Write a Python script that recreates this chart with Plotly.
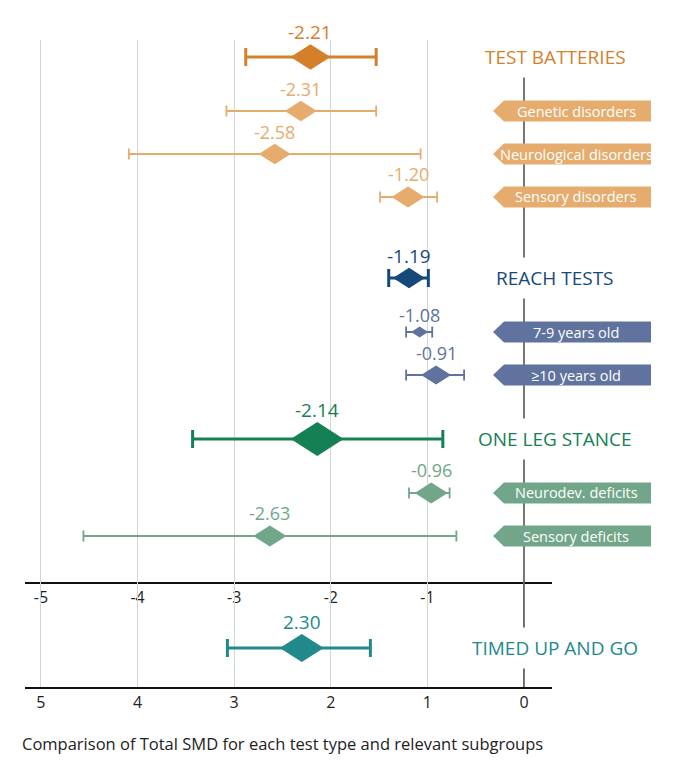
import plotly.graph_objects as go

# Datos: SMD total por tipo de prueba
grupos = ['TEST BATTERIES', 'REACH TESTS', 'ONE LEG STANCE', 'TIMED UP AND GO']
grupo_smd = [-2.21, -1.19, -2.14, 2.30]
grupo_lo = [-2.88, -1.40, -3.43, 1.59]
grupo_hi = [-1.53, -0.99, -0.84, 3.07]

# Subgrupos
sub_nombres = ['Genetic disorders', 'Neurological disorders', 'Sensory disorders',
               '7-9 years old', '≥10 years old', 'Neurodev. deficits', 'Sensory deficits']
sub_grupo = [0, 0, 0, 1, 1, 2, 2]
sub_smd = [-2.31, -2.58, -1.20, -1.08, -0.91, -0.96, -2.63]
sub_lo = [-3.08, -4.09, -1.49, -1.22, -1.22, -1.19, -4.56]
sub_hi = [-1.53, -1.07, -0.90, -0.95, -0.62, -0.77, -0.70]

ticks_top = [-5, -4, -3, -2, -1]
ticks_top_txt = ['-5', '-4', '-3', '-2', '-1']
ticks_bottom = [5, 4, 3, 2, 1, 0]
caption = 'Comparison of Total SMD for each test type and relevant subgroups'

# Estilos
col_grupo = ['#D4802B', '#16497A', '#168055', '#22898B']
col_sub = ['#E5AC6E', '#60739E', '#72A68A']
ancho_grupo = [20, 16, 26.5, 22]          # medio ancho del rombo (px)
ancho_sub = [16, 16, 16.5, 8.5, 15, 16.5, 16.5]
FONT = 'Open Sans'

W, H = 677, 771
L, R, T, B = 25, 125, 40, 84
PW, PH = W - L - R, H - T - B
Y_AXIS1, Y_AXIS2 = 582, 687     # lineas de eje (px desde arriba)
XMIN, XMAX = -5.165, 0.29
px_unit = PW / (XMAX - XMIN)
split = (Y_AXIS2 - Y_AXIS1) / PH

# Posiciones de filas (en px, eje y invertido)
salto_grupo = [0, 81, 64]
fila_grupo, fila_sub = [], [None] * len(sub_nombres)
y = 57
for g in range(3):
    y += salto_grupo[g]
    fila_grupo.append(y)
    y += 54
    subs = [i for i, sg in enumerate(sub_grupo) if sg == g]
    for k, i in enumerate(subs):
        if k > 0:
            y += 43
        fila_sub[i] = y
fila_grupo.append(648)


def px_x(px):
    return (px - L) / PW


def px_y(py):
    return (T + PH - py) / PH


fig = go.Figure()
annotations = []
shapes = []


def forest_row(m, lo, hi, row, color, hw_px, header, axis):
    xa, ya = ('x', 'y') if axis == 1 else ('x2', 'y2')
    fig.add_trace(go.Scatter(
        x=[m], y=[row], mode='markers', xaxis=xa, yaxis=ya,
        marker=dict(size=1, color=color),
        error_x=dict(type='data', symmetric=False,
                     array=[abs(hi - m)], arrayminus=[abs(m - lo)],
                     color=color, thickness=3 if header else 1.8,
                     width=9 if header else 5.5),
        showlegend=False, hoverinfo='skip'))
    hw = hw_px / px_unit
    if axis == 2:
        hw = -hw
    hh = hw_px * 0.64
    fig.add_trace(go.Scatter(
        x=[m - hw, m, m + hw, m, m - hw], y=[row, row - hh, row, row + hh, row],
        mode='lines', fill='toself', fillcolor=color, line=dict(width=0, color=color),
        xaxis=xa, yaxis=ya, showlegend=False, hoverinfo='skip'))
    annotations.append(dict(
        x=m, y=px_y(row - hh - 12), xref=xa, yref='paper', text=f'{m:.2f}',
        showarrow=False, xanchor='center', yanchor='middle',
        font=dict(family=FONT, size=19 if header else 18, color=color)))


for g in range(4):
    forest_row(grupo_smd[g], grupo_lo[g], grupo_hi[g], fila_grupo[g], col_grupo[g],
               ancho_grupo[g], True, 1 if g < 3 else 2)
    annotations.append(dict(
        x=px_x(555), y=px_y(fila_grupo[g]), xref='paper', yref='paper',
        text=grupos[g], showarrow=False, bgcolor='white', borderpad=7,
        xanchor='center', yanchor='middle',
        font=dict(family=FONT, size=19, color=col_grupo[g])))

for i, nombre in enumerate(sub_nombres):
    c = col_sub[sub_grupo[i]]
    row = fila_sub[i]
    forest_row(sub_smd[i], sub_lo[i], sub_hi[i], row, c, ancho_sub[i], False, 1)
    x0, x1, x2 = px_x(493), px_x(504), px_x(651)
    shapes.append(dict(
        type='path', xref='paper', yref='y', fillcolor=c, line=dict(width=0),
        path=f'M{x1},{row - 10.5} L{x2},{row - 10.5} L{x2},{row + 10.5} '
             f'L{x1},{row + 10.5} L{x0},{row} Z'))
    annotations.append(dict(
        x=px_x(576), y=px_y(row), xref='paper', yref='paper', text=nombre,
        showarrow=False, xanchor='center', yanchor='middle',
        font=dict(family=FONT, size=14.5, color='white')))

# Linea de cero
shapes.insert(0, dict(type='line', xref='x', yref='paper', x0=0, x1=0, y0=0, y1=1,
                      line=dict(color='#555555', width=1.6)))

annotations.append(dict(
    x=px_x(20), y=px_y(743), xref='paper', yref='paper', text=caption,
    xanchor='left', yanchor='middle', showarrow=False,
    font=dict(family=FONT, size=16.5, color='#222222')))

eje_x = dict(showgrid=True, gridcolor='#d4d4d4', gridwidth=1, zeroline=False,
             showline=True, linecolor='#111111', linewidth=2, ticks='',
             tickfont=dict(family=FONT, size=16, color='#222222'))

fig.update_layout(
    width=W, height=H,
    margin=dict(l=L, r=R, t=T, b=B),
    plot_bgcolor='white', paper_bgcolor='white',
    xaxis=dict(eje_x, range=[XMIN, XMAX], tickvals=ticks_top, ticktext=ticks_top_txt,
               anchor='y'),
    yaxis=dict(range=[Y_AXIS1, T], domain=[split, 1], visible=False),
    xaxis2=dict(eje_x, range=[-XMIN, -XMAX], tickvals=ticks_bottom, anchor='y2'),
    yaxis2=dict(range=[Y_AXIS2, Y_AXIS1], domain=[0, split], visible=False),
    shapes=shapes, annotations=annotations,
)

# sin margen del body para que la figura ocupe la ventana
fig.write_html('out.html', config={'displayModeBar': False},
               post_script="document.body.style.margin='0';")
